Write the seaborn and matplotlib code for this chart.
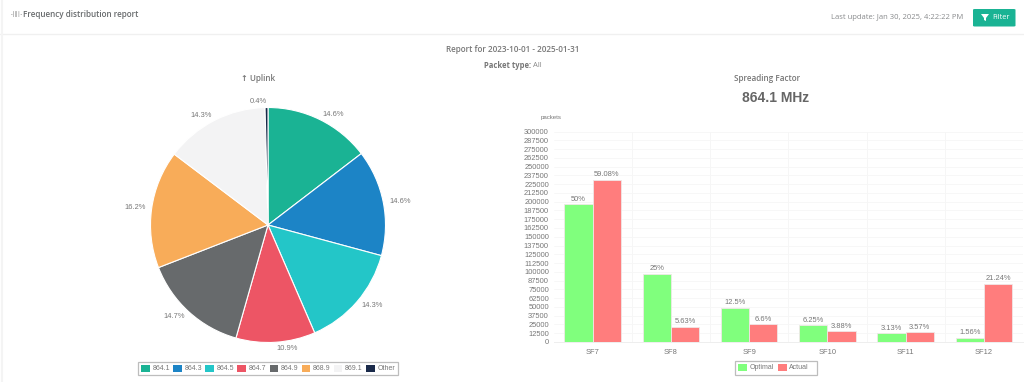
import matplotlib
matplotlib.use("Agg")
import matplotlib.pyplot as plt
from matplotlib.patches import Rectangle, FancyBboxPatch, Polygon
import numpy as np
import pandas as pd
import seaborn as sns

sns.set_theme(style="white")
plt.rcParams['font.family'] = ['Open Sans', 'DejaVu Sans']

freqs = ["864.1", "864.3", "864.5", "864.7", "864.9", "868.9", "869.1", "Other"]
shares = [14.6, 14.6, 14.3, 10.9, 14.7, 16.2, 14.3, 0.4]
pie_colors = ["#1ab394", "#1c84c6", "#23c6c8", "#ed5565", "#676a6c", "#f8ac59", "#f3f3f4", "#1a2a4a"]

sfs = ["SF7", "SF8", "SF9", "SF10", "SF11", "SF12"]
optimal = [196000, 97500, 48750, 24375, 12200, 6080]
actual = [231500, 21950, 25740, 15130, 13920, 83200]
optimal_lbl = ["50%", "25%", "12.5%", "6.25%", "3.13%", "1.56%"]
actual_lbl = ["59.08%", "5.63%", "6.6%", "3.88%", "3.57%", "21.24%"]
yticks = list(range(0, 300001, 12500))

W, H = 1024, 382
fig = plt.figure(figsize=(W/100, H/100), dpi=100, facecolor="#ffffff")
grey = "#676a6c"
def T(x, y, s, **k):
    k.setdefault("color", grey); k.setdefault("ha", "center"); k.setdefault("va", "center")
    return fig.text(x/W, 1-y/H, s, **k)

# page furniture
fig.add_artist(plt.Line2D([0, 1], [1-33.5/H]*2, color="#f0f0f0", lw=1))
fig.add_artist(plt.Line2D([2/W, 2/W], [0, 1], color="#f4f4f4", lw=1.5))
T(23, 14.5, "Frequency distribution report", ha="left", fontsize=5.9, fontweight="semibold")
T(17.3, 14.5, "-\u2502\u2503\u2502-", fontsize=3.4, family="DejaVu Sans", color="#555555")
T(963.5, 17.5, "Last update: Jan 30, 2025, 4:22:22 PM", ha="right", fontsize=5.5, color="#888a8c")
fig.add_artist(FancyBboxPatch((973/W, 1-26.5/H), 42.5/W, 17.5/H, boxstyle="round,pad=0,rounding_size=0.002",
                              fc="#1ab394", ec="none", transform=fig.transFigure))
fig.add_artist(Polygon([[981/W, 1-14/H], [989/W, 1-14/H], [986/W, 1-18/H], [986/W, 1-21/H], [984/W, 1-20/H], [984/W, 1-18/H]],
                       closed=True, fc="white", ec="none", transform=fig.transFigure))
T(992.5, 17.5, "Filter", ha="left", fontsize=5.3, color="white")
T(513, 50, "Report for 2023-10-01 - 2025-01-31", fontsize=5.9, fontweight="semibold", color="#777777")
T(484, 65.5, "Packet type:", ha="left", fontsize=5.5, fontweight="bold", color="#777777")
T(533, 65.5, "All", ha="left", fontsize=5.5, color="#888888")
T(258.5, 78.5, "\u2191 Uplink", fontsize=5.9, fontweight="semibold", color="#777777")
T(766.7, 78.5, "Spreading Factor", fontsize=5.9, fontweight="semibold", color="#777777")
T(775.5, 98, "864.1 MHz", fontsize=10, fontweight="bold", family="Liberation Sans", color="#666666")

# pie
cx, cy, r = 268, 225, 117.5
axp = fig.add_axes([(cx-r)/W, 1-(cy+r)/H, 2*r/W, 2*r/H])
axp.pie(shares, colors=pie_colors, startangle=90, counterclock=False, radius=1,
        wedgeprops=dict(edgecolor="white", linewidth=0.8))
axp.set_xlim(-1, 1); axp.set_ylim(-1, 1)
theta = 90 - (np.cumsum(shares) - np.array(shares)/2) * 3.6 * 100 / sum(shares)
lr = 123.5
for s, a in zip(shares, theta):
    c = np.cos(np.radians(a))
    T(cx + lr*c, cy - lr*np.sin(np.radians(a)), f"{s}%", fontsize=5.4, family="Liberation Sans",
      color="#777777", ha="left" if c > 0 else "right")

# bars
axb = fig.add_axes([553.5/W, 1-342/H, (1023-553.5)/W, (342-131.5)/H])
df = pd.DataFrame({"sf": sfs*2, "kind": ["Optimal"]*6 + ["Actual"]*6, "v": optimal + actual})
sns.barplot(data=df, x="sf", y="v", hue="kind", palette={"Optimal": "#80ff7d", "Actual": "#ff7d7d"},
            saturation=1, width=0.72, gap=0.0, ax=axb, legend=False, edgecolor="#f0e8e8", linewidth=0.6)
axb.set_ylim(0, 300000)
axb.set_xlim(-0.5, 5.5)
axb.set_yticks(yticks)
axb.set_yticklabels([str(v) for v in yticks], fontsize=5.4, family="Liberation Sans", color="#777777")
axb.set_xticks(range(6))
axb.set_xticklabels(sfs, fontsize=5.4, family="Liberation Sans", color="#777777")
axb.set_xlabel(""); axb.set_ylabel("")
axb.tick_params(axis="y", length=2.5, color="#f2f2f2", width=0.6, pad=0.8)
axb.tick_params(axis="x", length=0, pad=5)
axb.set_xticks(np.arange(0.5, 5.5), minor=True)
axb.tick_params(axis="x", which="minor", length=0)
axb.grid(True, axis="y", color="#f6f6f6", lw=0.6)
axb.grid(True, axis="x", which="minor", color="#f5f5f5", lw=0.6)
axb.grid(False, axis="x", which="major")
axb.set_axisbelow(True)
for s in ["top", "right", "left"]:
    axb.spines[s].set_visible(False)
axb.spines["bottom"].set_color("#eeeeee"); axb.spines["bottom"].set_linewidth(0.7)
for c, labels in zip(axb.containers, [optimal_lbl, actual_lbl]):
    axb.bar_label(c, labels=labels, padding=1, fontsize=5.4, family="Liberation Sans", color="#777777")
T(551.5, 117, "packets", fontsize=4.4, family="Liberation Sans", color="#777777")

# legends
def legend(x0, x1, y0, y1, items):
    fig.add_artist(Rectangle((x0/W, 1-y1/H), (x1-x0)/W, (y1-y0)/H, fc="white", ec="#bdbdbd", lw=0.9, transform=fig.transFigure))
    ym = (y0+y1)/2
    for xb, wb, col, xt, lab in items:
        fig.add_artist(Rectangle((xb/W, 1-(ym+3.5)/H), wb/W, 7/H, fc=col, ec="none", transform=fig.transFigure))
        T(xt, ym, lab, ha="left", fontsize=5.0, family="Liberation Sans", color="#777777")
xs = [141, 173, 205, 237, 269.5, 301.5, 333.5, 366]
legend(137.5, 398, 361.5, 374.5, [(x, 8.5, c, x+11.5, f) for x, c, f in zip(xs, pie_colors, freqs)])
legend(735, 816.5, 361, 374.5, [(738, 9, "#80ff7d", 750, "Optimal"), (778, 9, "#ff7d7d", 789, "Actual")])

fig.savefig("out.png", dpi=100)
